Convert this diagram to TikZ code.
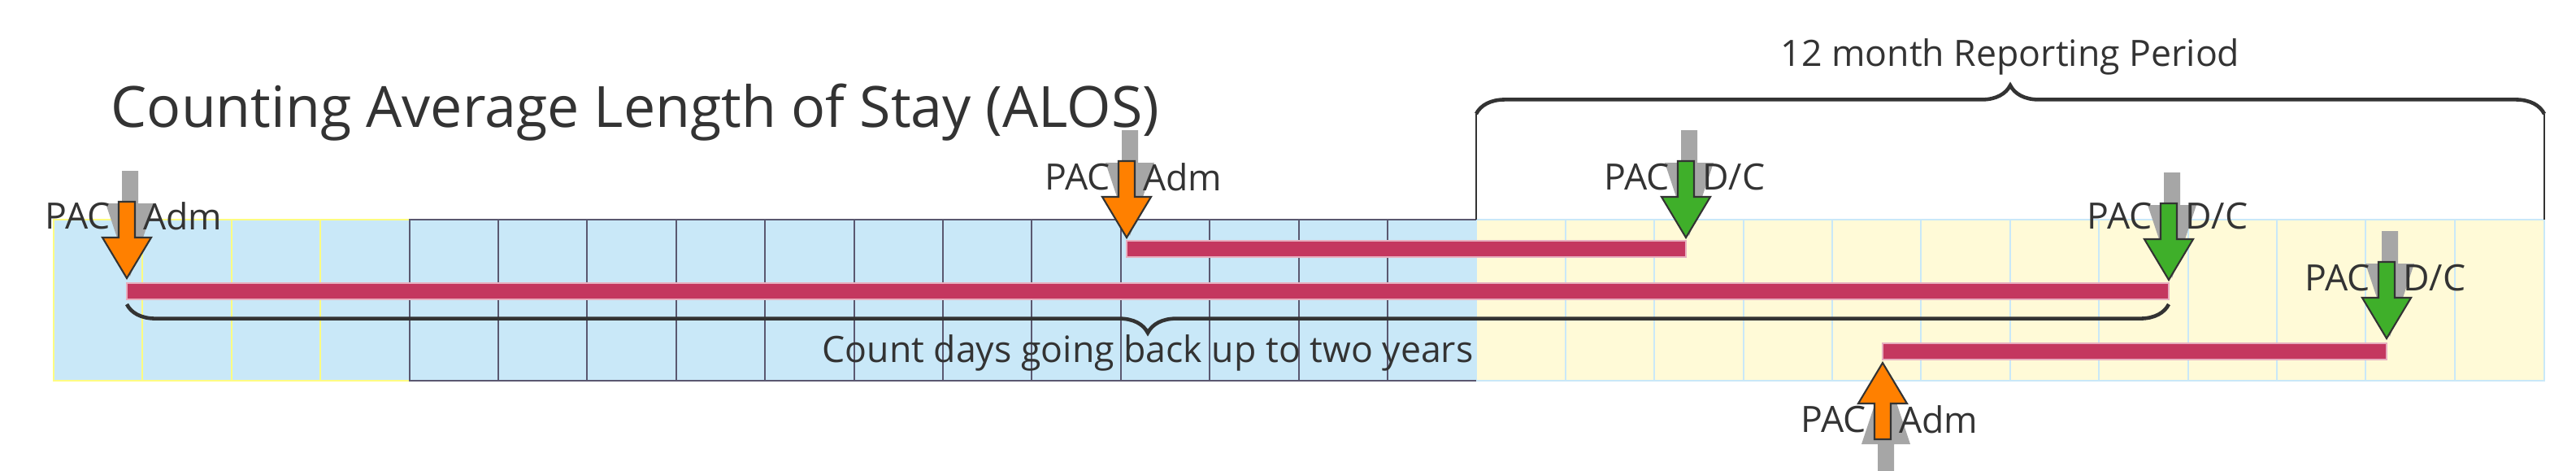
\documentclass[tikz,border=0pt]{standalone}
\usepackage{fontspec}
\setmainfont{Open Sans}
\usetikzlibrary{decorations.pathreplacing,positioning}
\definecolor{stayblue}{HTML}{C9E8F8}
\definecolor{stayyellow}{HTML}{FFFAD7}
\definecolor{staybar}{HTML}{C4375F}
\definecolor{admorange}{HTML}{FF8000}
\definecolor{dcgreen}{HTML}{3FAF2A}
\definecolor{gridgray}{HTML}{5A5870}
\definecolor{inkgray}{HTML}{333333}
\tikzset{
  lbl/.style={font=\fontsize{12.7}{14}\selectfont,text=inkgray,inner sep=1pt},
  bar/.style={fill=staybar,draw=staybar!40!white,line width=0.5pt},
  bigbrace/.style={decorate,decoration={brace,amplitude=10},line width=1.3pt,draw=inkgray},
}
% arrow marker: x, tip y, direction (+1 down, -1 up), colour
\newcommand{\pacmark}[4]{%
  \fill[black!35] (#1+2,#2-#3*3+2) -- ++(-15,-#3*45) -- ++(10,0) -- ++(0,-#3*20)
    -- ++(10,0) -- ++(0,#3*20) -- ++(10,0) -- cycle;
  \filldraw[fill=#4,draw=inkgray,line width=0.6pt] (#1,#2) -- ++(-15,-#3*25)
    -- ++(10,0) -- ++(0,-#3*22) -- ++(10,0) -- ++(0,#3*22) -- ++(10,0) -- cycle;}
\begin{document}
\begin{tikzpicture}[x=0.02cm,y=-0.02cm]
  \useasboundingbox (0,0) rectangle (1584.5,289);
  % background grid
  \fill[stayblue] (33,135) rectangle (908,234);
  \fill[stayyellow] (908,135) rectangle (1565,234);
  \foreach \i in {1,...,4}
    \draw[stayyellow!60!yellow,line width=0.6pt] (33+54.7*\i,135) -- (33+54.7*\i,234);
  \draw[stayyellow!60!yellow,line width=0.6pt] (33,135) rectangle (252,234);
  \foreach \i in {17,...,27}
    \draw[stayblue,line width=0.6pt] (33+54.7*\i,135) -- (33+54.7*\i,234);
  \draw[stayblue,line width=0.8pt] (908,135) rectangle (1565,234);
  \foreach \i in {5,...,15}
    \draw[gridgray,line width=0.6pt] (33+54.7*\i,135) -- (33+54.7*\i,234);
  \draw[gridgray,line width=0.6pt] (908,135) -- (252,135) -- (252,234) -- (908,234);
  % title
  \node[anchor=base west,font=\fontsize{19.9}{22}\selectfont,text=inkgray,inner sep=0]
    (title) at (68,78) {Counting Average Length of Stay (ALOS)};
  % reporting period
  \coordinate (rpl) at (908,70);
  \coordinate (rpr) at (1565,70);
  \draw[inkgray,line width=0.6pt] (908,135) -- (rpl) (1565,135) -- (rpr);
  \draw[bigbrace] (rpl) -- node[above=12pt,lbl] (period) {12 month Reporting Period} (rpr);
  % stays
  \draw[bar] (78,174) rectangle (1334,184);
  \draw[bar] (693,148) rectangle (1037,158);
  \draw[bar] (1158,211) rectangle (1468,221);
  % count-back brace
  \coordinate (cbl) at (78,187);
  \coordinate (cbr) at (1334,187);
  \draw[bigbrace,decoration={brace,mirror,amplitude=10}] (cbl) --
    node[below=9pt,lbl,fill=none] (countback) {Count days going back up to two years} (cbr);
  % markers
  \pacmark{78}{171}{1}{admorange}
  \node[lbl,anchor=east] (pac1) at (70,133) {PAC};
  \node[lbl,anchor=west] (adm1) at (86,133) {Adm};
  \pacmark{693}{146}{1}{admorange}
  \node[lbl,anchor=east] (pac2) at (685,109) {PAC};
  \node[lbl,anchor=west] (adm2) at (701,109) {Adm};
  \pacmark{1037}{146}{1}{dcgreen}
  \node[lbl,anchor=east] (pac3) at (1029,109) {PAC};
  \node[lbl,anchor=west] (dc3) at (1045,109) {D/C};
  \pacmark{1334}{172}{1}{dcgreen}
  \node[lbl,anchor=east] (pac4) at (1326,133) {PAC};
  \node[lbl,anchor=west] (dc4) at (1342,133) {D/C};
  \pacmark{1468}{208}{1}{dcgreen}
  \node[lbl,anchor=east] (pac5) at (1460,171) {PAC};
  \node[lbl,anchor=west] (dc5) at (1476,171) {D/C};
  \pacmark{1158}{223}{-1}{admorange}
  \node[lbl,anchor=east] (pac6) at (1150,258) {PAC};
  \node[lbl,anchor=west] (adm6) at (1166,258) {Adm};
\end{tikzpicture}
\end{document}
